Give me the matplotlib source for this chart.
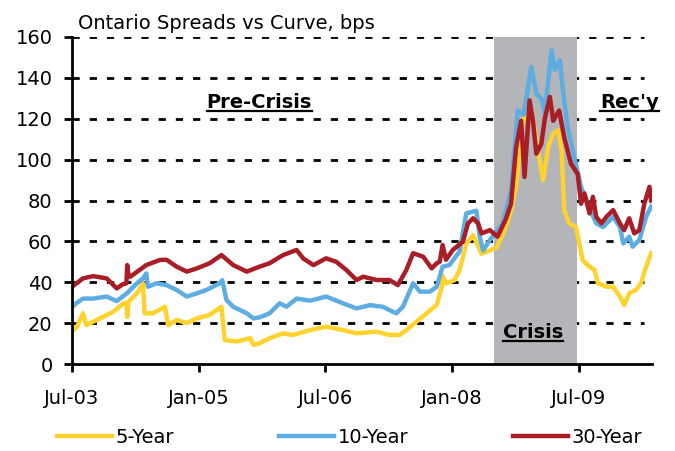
import matplotlib
matplotlib.use('Agg')
import matplotlib.pyplot as plt
from matplotlib.lines import Line2D

# spreads in bps, x in decimal years
x30 = [2003.50, 2003.63, 2003.75, 2003.91, 2004.03, 2004.10, 2004.145, 2004.154, 2004.17, 2004.19,
       2004.30, 2004.38, 2004.54, 2004.62, 2004.74, 2004.86, 2004.98, 2005.13, 2005.27, 2005.41,
       2005.57, 2005.72, 2005.84, 2006.00, 2006.16, 2006.24, 2006.36, 2006.51, 2006.63, 2006.75,
       2006.87, 2006.95, 2007.11, 2007.26, 2007.36, 2007.46, 2007.54, 2007.66, 2007.76, 2007.82,
       2007.855, 2007.89, 2007.93, 2008.01, 2008.13, 2008.19, 2008.25, 2008.31, 2008.35, 2008.45,
       2008.54, 2008.64, 2008.70, 2008.76, 2008.82, 2008.86, 2008.92, 2008.96, 2009.00, 2009.06,
       2009.10, 2009.16, 2009.20, 2009.24, 2009.27, 2009.33, 2009.41, 2009.49, 2009.53, 2009.57,
       2009.63, 2009.67, 2009.71, 2009.77, 2009.83, 2009.91, 2009.99, 2010.04, 2010.10, 2010.16,
       2010.22, 2010.28, 2010.34, 2010.36]
y30 = [37.8, 41.9, 43.0, 41.9, 37.0, 39.0, 39.5, 48.4, 43.0, 42.7,
       46.0, 48.4, 50.9, 51.0, 47.6, 45.2, 46.8, 49.3, 53.3, 48.4,
       45.2, 47.6, 49.3, 53.3, 55.8, 51.6, 48.4, 51.7, 50.0, 46.0,
       41.1, 42.7, 41.1, 41.1, 38.6, 46.0, 54.2, 52.5, 46.8, 49.3,
       50.0, 58.2, 51.0, 55.8, 59.8, 68.8, 71.3, 68.8, 63.9, 65.5,
       62.3, 71.0, 78.4, 106.0, 119.0, 91.5, 129.0, 119.0, 102.9, 107.8,
       120.0, 130.7, 119.0, 122.0, 124.0, 111.0, 98.0, 93.0, 78.4, 83.5,
       73.7, 81.8, 72.0, 68.8, 72.0, 75.3, 68.8, 65.5, 71.3, 63.9,
       65.5, 78.6, 86.7, 80.0]

x10 = [2003.50, 2003.56, 2003.63, 2003.75, 2003.91, 2004.03, 2004.15, 2004.27, 2004.34, 2004.38,
       2004.40, 2004.50, 2004.62, 2004.74, 2004.86, 2004.98, 2005.09, 2005.25, 2005.28, 2005.33,
       2005.41, 2005.57, 2005.65, 2005.72, 2005.84, 2005.96, 2006.04, 2006.16, 2006.32, 2006.51,
       2006.71, 2006.87, 2007.03, 2007.18, 2007.34, 2007.42, 2007.54, 2007.62, 2007.74, 2007.82,
       2007.89, 2007.97, 2008.09, 2008.17, 2008.29, 2008.33, 2008.37, 2008.45, 2008.54, 2008.60,
       2008.70, 2008.78, 2008.85, 2008.94, 2009.00, 2009.06, 2009.10, 2009.18, 2009.22, 2009.28,
       2009.31, 2009.37, 2009.45, 2009.53, 2009.59, 2009.71, 2009.79, 2009.91, 2009.99, 2010.03,
       2010.10, 2010.14, 2010.22, 2010.30, 2010.36]
y10 = [28.0, 30.0, 32.0, 32.0, 33.0, 30.8, 34.6, 39.5, 41.9, 44.3,
       37.8, 39.5, 38.6, 36.2, 33.0, 34.6, 36.2, 39.5, 41.0, 31.3,
       28.0, 24.8, 22.3, 22.8, 24.8, 29.7, 28.0, 32.0, 31.0, 33.0,
       29.7, 27.2, 28.8, 28.0, 24.8, 28.0, 39.5, 35.4, 35.4, 37.8,
       47.6, 48.4, 55.0, 73.7, 75.0, 62.0, 55.6, 60.7, 65.5, 68.6,
       85.0, 124.0, 122.0, 145.3, 132.2, 130.0, 122.5, 153.5, 144.0, 148.6,
       135.5, 116.0, 101.0, 86.6, 80.0, 68.8, 67.0, 72.0, 67.0, 59.0,
       62.3, 57.4, 60.7, 72.0, 77.0]

x5 = [2003.50, 2003.56, 2003.63, 2003.67, 2003.75, 2003.87, 2003.99, 2004.11, 2004.145, 2004.154,
      2004.17, 2004.27, 2004.34, 2004.36, 2004.46, 2004.60, 2004.64, 2004.74, 2004.86, 2004.98,
      2005.13, 2005.27, 2005.31, 2005.45, 2005.61, 2005.65, 2005.72, 2005.84, 2006.00, 2006.12,
      2006.32, 2006.51, 2006.71, 2006.87, 2007.11, 2007.26, 2007.38, 2007.46, 2007.58, 2007.70,
      2007.82, 2007.88, 2007.89, 2007.93, 2008.03, 2008.09, 2008.17, 2008.25, 2008.35, 2008.45,
      2008.53, 2008.64, 2008.70, 2008.76, 2008.84, 2008.94, 2009.04, 2009.08, 2009.14, 2009.20,
      2009.26, 2009.30, 2009.33, 2009.39, 2009.47, 2009.51, 2009.55, 2009.63, 2009.69, 2009.73,
      2009.83, 2009.91, 2009.99, 2010.04, 2010.10, 2010.18, 2010.24, 2010.30, 2010.36]
y5 = [15.8, 18.3, 24.8, 19.0, 20.7, 23.1, 25.6, 29.7, 30.0, 23.0,
      30.5, 34.6, 39.5, 24.8, 24.8, 28.0, 19.0, 21.5, 20.0, 22.3,
      24.0, 28.0, 11.7, 11.0, 12.6, 9.3, 10.1, 12.6, 15.0, 14.2,
      16.6, 18.3, 16.6, 15.0, 15.8, 14.2, 14.2, 16.6, 20.7, 24.8,
      28.9, 37.8, 43.0, 39.5, 41.0, 45.8, 58.8, 63.0, 54.0, 55.6,
      57.0, 67.0, 75.0, 86.6, 119.0, 125.0, 99.6, 89.9, 106.0, 112.8,
      114.3, 104.0, 75.2, 68.8, 67.0, 58.8, 50.7, 47.6, 46.0, 39.5,
      37.8, 37.8, 33.0, 28.9, 34.6, 36.2, 39.5, 47.6, 54.2]

crisis_start, crisis_end = 2008.5, 2009.48
tick_pos = [2003.5, 2005.0, 2006.5, 2008.0, 2009.5]
tick_labels = ['Jul-03', 'Jan-05', 'Jul-06', 'Jan-08', 'Jul-09']

YELLOW = '#FFD22E'
BLUE = '#5DADE2'
RED = '#A91D27'

plt.rcParams['font.family'] = 'DejaVu Sans'

fig = plt.figure(figsize=(6.75, 4.51), dpi=100)
ax = fig.add_axes([72 / 675, 1 - 364 / 451, 580 / 675, 327 / 451])

for v in range(20, 161, 20):
    ax.plot([2003.5, 2010.28], [v, v], color='black', lw=2.0, ls=(0, (2.6, 3.6)), zorder=1)
ax.axvspan(crisis_start, crisis_end, color='#B3B5B8', lw=0, zorder=2)

ax.plot(x5, y5, color=YELLOW, lw=3.2, label='5-Year', zorder=3)
ax.plot(x10, y10, color=BLUE, lw=3.2, label='10-Year', zorder=4)
ax.plot(x30, y30, color=RED, lw=3.2, label='30-Year', zorder=5)

ax.set_xlim(2003.5, 2010.37)
ax.set_ylim(0, 160)
ax.set_yticks(range(0, 161, 20))
ax.set_xticks(tick_pos)
ax.set_xticklabels(tick_labels)
for s in ['top', 'right']:
    ax.spines[s].set_visible(False)
for s in ['left', 'bottom']:
    ax.spines[s].set_linewidth(2)
    ax.spines[s].set_zorder(6)
ax.tick_params(axis='both', direction='out', length=6, width=2, labelsize=14)
ax.tick_params(axis='y', pad=8)
ax.tick_params(axis='x', pad=12)

fig.text(78 / 675, 1 - 29 / 451, 'Ontario Spreads vs Curve, bps', fontsize=14, va='baseline')

labels = [
    ax.text(2005.72, 125.5, 'Pre-Crisis', fontsize=14, fontweight='bold', ha='center', va='baseline', zorder=7),
    ax.text(2010.10, 125.5, "Rec'y", fontsize=14, fontweight='bold', ha='center', va='baseline', zorder=7),
    ax.text(2008.96, 12.7, 'Crisis', fontsize=14, fontweight='bold', ha='center', va='baseline', zorder=7),
]

fig.legend(loc='center', bbox_to_anchor=(0.518, 0.031), ncol=3, frameon=False, fontsize=14,
           handlelength=2.8, handletextpad=0.2, columnspacing=5.4)

# underline the period labels
fig.canvas.draw()
r = fig.canvas.get_renderer()
inv = fig.transFigure.inverted()
for t in labels:
    bb = t.get_window_extent(r)
    yb = ax.transData.transform(t.get_position())[1] - 3
    (fx0, fy), (fx1, _) = inv.transform([(bb.x0, yb), (bb.x1, yb)])
    fig.add_artist(Line2D([fx0, fx1], [fy, fy], color='black', lw=1.6))

fig.savefig('out.png', dpi=100)
